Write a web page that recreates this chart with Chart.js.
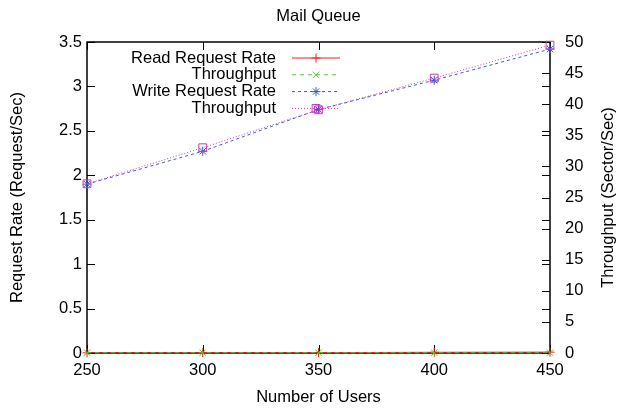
<!DOCTYPE html>
<html>
<head>
<meta charset="utf-8">
<script src="https://cdn.jsdelivr.net/npm/chart.js@4/dist/chart.umd.min.js"></script>
<style>
  body { margin: 0; background: #fff; }
  #wrap { width: 618px; height: 409px; }
</style>
</head>
<body>
<div id="wrap"><canvas id="chart" width="618" height="409"></canvas></div>
<script>
// data
const users = [250, 300, 350, 400, 450];
const readRate = [0.002, 0.003, 0.004, 0.008, 0.01];
const readThroughput = [0.05, 0.05, 0.05, 0.05, 0.05];
const writeRate = [1.9, 2.27, 2.74, 3.07, 3.42];
const writeThroughput = [27.2, 33.0, 39.1, 44.2, 49.5];

const FONT = 'Liberation Sans, Arial, Helvetica, sans-serif';
const FS = 16.5;

// gnuplot style: frame, inward ticks, title, legend inside plot
const frame = {
  id: 'frame',
  beforeDatasetsDraw(chart) {
    const ctx = chart.ctx;
    const a = chart.chartArea;
    const sx = chart.scales.x, yl = chart.scales.y, yr = chart.scales.y2;
    ctx.save();
    ctx.strokeStyle = '#000';
    ctx.lineWidth = 1.5;
    ctx.strokeRect(a.left, a.top, a.right - a.left, a.bottom - a.top);
    ctx.lineWidth = 1;
    ctx.beginPath();
    sx.ticks.forEach(t => {
      const x = Math.round(sx.getPixelForValue(t.value)) + 0.5;
      ctx.moveTo(x, a.bottom); ctx.lineTo(x, a.bottom - 8);
      ctx.moveTo(x, a.top); ctx.lineTo(x, a.top + 8);
    });
    yl.ticks.forEach(t => {
      const y = Math.round(yl.getPixelForValue(t.value)) + 0.5;
      ctx.moveTo(a.left, y); ctx.lineTo(a.left + 8, y);
      ctx.moveTo(a.right, y); ctx.lineTo(a.right - 8, y);
    });
    yr.ticks.forEach(t => {
      const y = Math.round(yr.getPixelForValue(t.value)) + 0.5;
      ctx.moveTo(a.right, y); ctx.lineTo(a.right - 8, y);
    });
    ctx.stroke();

    // title
    ctx.fillStyle = '#000';
    ctx.font = FS + 'px ' + FONT;
    ctx.textAlign = 'center';
    ctx.textBaseline = 'middle';
    ctx.fillText('Mail Queue', (a.left + a.right) / 2, 16);

    // right axis title, reading bottom to top like gnuplot
    ctx.save();
    ctx.translate(608, (a.top + a.bottom) / 2);
    ctx.rotate(-Math.PI / 2);
    ctx.fillText('Throughput (Sector/Sec)', 0, 0);
    ctx.restore();
    ctx.restore();
  },
  afterDraw(chart) {
    const ctx = chart.ctx;
    ctx.save();
    ctx.font = FS + 'px ' + FONT;
    ctx.textBaseline = 'middle';
    ctx.textAlign = 'right';
    chart.data.datasets.forEach((ds, i) => {
      const y = 58 + i * 16.8;
      ctx.fillStyle = '#000';
      ctx.fillText(ds.label, 276, y);
      ctx.strokeStyle = ds.borderColor;
      ctx.setLineDash(ds.borderDash || []);
      ctx.lineWidth = 1;
      ctx.beginPath();
      ctx.moveTo(292, y); ctx.lineTo(340, y);
      ctx.stroke();
      ctx.setLineDash([]);
      ctx.fillStyle = 'rgba(0,0,0,0)';
      Chart.helpers.drawPoint(ctx, {
        pointStyle: ds.pointStyle, radius: ds.pointStyle === 'rect' ? 5.5 : 4.5, borderWidth: 1
      }, 316, y);
    });
    ctx.restore();
  }
};

function series(label, data, color, dash, style, axis, order) {
  return {
    label: label,
    data: data,
    yAxisID: axis,
    order: order,
    borderColor: color,
    backgroundColor: 'rgba(0,0,0,0)',
    borderWidth: 1,
    borderDash: dash,
    pointStyle: style,
    pointRadius: style === 'rect' ? 5.5 : 4.5,
    pointBorderColor: color,
    pointBorderWidth: 1,
    tension: 0,
    clip: false
  };
}

const ctx = document.getElementById('chart').getContext('2d');
new Chart(ctx, {
  type: 'line',
  data: {
    labels: users,
    datasets: [
      series('Read Request Rate', readRate, '#ee2222', [], 'cross', 'y', 3),
      series('Throughput', readThroughput, '#55c03a', [4, 4], 'crossRot', 'y2', 2),
      series('Write Request Rate', writeRate, '#3a5cc4', [3, 3], 'star', 'y', 1),
      series('Throughput', writeThroughput, '#c03cc0', [1, 2], 'rect', 'y2', 0)
    ]
  },
  plugins: [frame],
  options: {
    responsive: false,
    animation: false,
    layout: { padding: { top: 42, right: 0, left: 0, bottom: 0 } },
    plugins: {
      legend: { display: false },
      title: { display: false },
      tooltip: { enabled: false }
    },
    scales: {
      x: {
        type: 'linear',
        min: 250, max: 450,
        grid: { display: false, drawTicks: false },
        border: { display: false },
        ticks: { stepSize: 50, color: '#000', font: { size: FS, family: FONT }, padding: 8 },
        title: { display: true, text: 'Number of Users', color: '#000', font: { size: FS, family: FONT }, padding: { top: 4, bottom: 2 } },
        afterFit(s) { s.height = 56; }
      },
      y: {
        position: 'left',
        min: 0, max: 3.5,
        grid: { display: false, drawTicks: false },
        border: { display: false },
        ticks: { stepSize: 0.5, color: '#000', font: { size: FS, family: FONT }, padding: 5, callback: v => String(v) },
        title: { display: true, text: 'Request Rate (Request/Sec)', color: '#000', font: { size: FS, family: FONT }, padding: { top: 8, bottom: 0 } },
        afterFit(s) { s.width = 87; }
      },
      y2: {
        position: 'right',
        min: 0, max: 50,
        grid: { display: false, drawTicks: false },
        border: { display: false },
        ticks: { stepSize: 5, color: '#000', font: { size: FS, family: FONT }, padding: 15 },
        title: { display: false },
        afterFit(s) { s.width = 68; }
      }
    }
  }
});
</script>
</body>
</html>
